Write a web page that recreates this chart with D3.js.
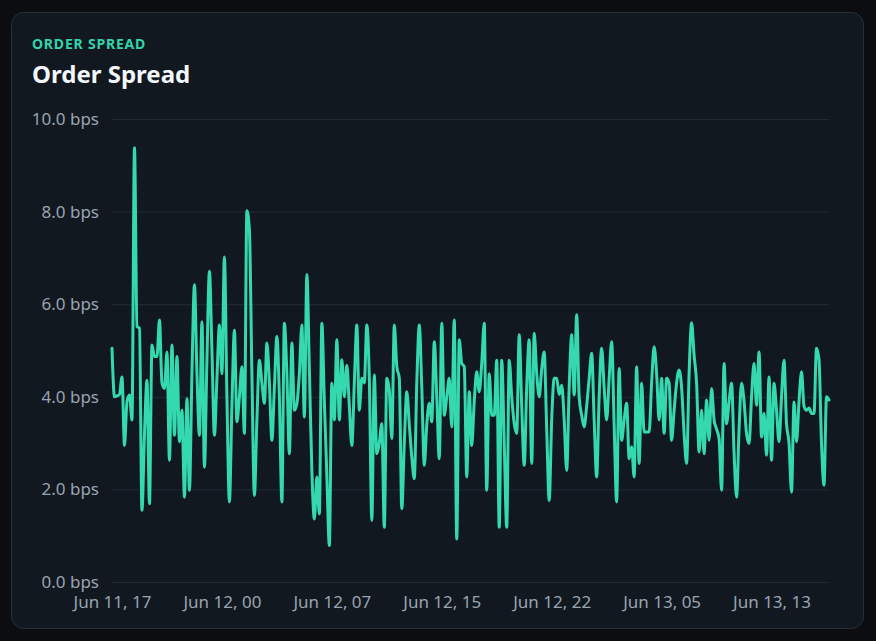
<!DOCTYPE html>
<html>
<head>
<meta charset="utf-8">
<script src="https://cdn.jsdelivr.net/npm/d3@7"></script>
<style>
  html, body { margin: 0; padding: 0; background: #0b0d10; }
  body { width: 876px; height: 641px; overflow: hidden; font-family: "Noto Sans", "Open Sans", sans-serif; }
</style>
</head>
<body>
<svg id="chart" width="876" height="641"></svg>
<script>
// ---- data ----
const chartKicker = "ORDER SPREAD";
const chartTitle = "Order Spread";
const startTime = "2024-06-11T17:00:00";
const stepMinutes = 10;
const spreadBps = [
  5.05, 4.0, 4.02, 4.05, 4.43, 2.95, 3.9, 4.04, 3.5, 9.38,
  5.52, 5.48, 1.55, 3.2, 4.36, 1.69, 5.12, 4.87, 4.87, 5.66,
  4.3, 4.18, 4.97, 2.63, 5.12, 3.17, 4.87, 3.03, 3.71, 1.83,
  3.96, 1.98, 4.5, 6.42, 4.5, 3.17, 5.62, 2.48, 4.8, 6.71,
  5.0, 3.17, 4.4, 5.55, 4.5, 7.02, 4.0, 1.73, 3.8, 5.44,
  3.46, 4.0, 4.65, 3.21, 8.02, 7.6, 4.5, 1.87, 3.5, 4.79,
  4.3, 3.86, 5.16, 4.3, 3.06, 4.2, 5.3, 4.0, 1.73, 5.59,
  4.5, 2.77, 5.16, 3.71, 3.85, 4.5, 5.55, 3.56, 6.64, 4.6,
  2.4, 1.36, 2.27, 1.47, 5.59, 3.9, 2.3, 0.79, 4.29, 3.5,
  5.23, 3.5, 4.8, 4.0, 4.68, 3.8, 2.95, 4.3, 5.55, 3.71,
  4.4, 4.3, 5.55, 4.4, 1.33, 4.47, 2.77, 3.0, 3.42, 1.18,
  4.4, 4.14, 3.1, 5.55, 4.65, 4.4, 1.58, 3.0, 4.11, 3.4,
  2.7, 2.23, 4.3, 5.55, 4.2, 2.52, 3.4, 3.86, 3.46, 5.19,
  4.0, 2.66, 5.59, 3.6, 4.0, 4.4, 3.35, 5.66, 0.93, 5.23,
  4.72, 4.65, 2.27, 4.11, 2.95, 3.9, 4.54, 4.11, 4.72, 5.59,
  1.98, 4.5, 3.6, 3.6, 4.79, 1.18, 4.79, 3.0, 1.18, 4.79,
  4.0, 3.42, 3.21, 5.34, 3.8, 2.52, 4.2, 5.23, 2.56, 5.37,
  4.5, 4.0, 4.6, 4.97, 3.3, 1.76, 3.5, 4.4, 4.4, 4.05,
  4.25, 3.5, 2.41, 4.2, 5.34, 4.04, 5.77, 4.0, 3.6, 3.35,
  3.8, 4.4, 4.94, 3.5, 2.27, 4.0, 5.05, 4.2, 3.5, 4.4,
  5.19, 3.4, 1.73, 4.61, 3.06, 3.5, 3.86, 2.66, 2.92, 2.27,
  4.65, 2.56, 4.29, 3.24, 3.24, 3.24, 4.3, 5.08, 4.5, 3.5,
  4.4, 3.21, 4.4, 4.3, 3.06, 3.7, 4.3, 4.58, 4.2, 3.2,
  2.56, 4.5, 5.6, 4.9, 4.3, 2.81, 3.71, 2.77, 3.93, 3.06,
  4.18, 3.5, 3.3, 3.1, 1.98, 4.72, 3.42, 3.9, 4.29, 2.8,
  1.83, 3.3, 4.29, 3.9, 3.2, 2.99, 4.0, 4.72, 3.82, 4.97,
  3.13, 3.64, 2.74, 4.43, 2.63, 4.29, 3.7, 3.03, 4.0, 4.79,
  3.42, 3.0, 1.94, 3.89, 3.03, 3.9, 4.54, 3.8, 3.71, 3.76,
  3.64, 3.64, 5.05, 4.8, 3.0, 2.09, 4.0, 3.93
];
const xTickLabels = ["Jun 11, 17", "Jun 12, 00", "Jun 12, 07", "Jun 12, 15", "Jun 12, 22", "Jun 13, 05", "Jun 13, 13"];
const xTickEvery = 44;
const yTicks = [0, 2, 4, 6, 8, 10];

// ---- build ----
const parse = d3.timeParse("%Y-%m-%dT%H:%M:%S");
const t0 = parse(startTime);
const data = spreadBps.map((v, i) => ({ t: d3.timeMinute.offset(t0, i * stepMinutes), v }));

const svg = d3.select("#chart");
const W = 876, H = 641;
const margin = { left: 112, right: 47, top: 119, bottom: 59 };

// card
svg.append("rect")
  .attr("x", 11.5).attr("y", 12.5)
  .attr("width", 852).attr("height", 616)
  .attr("rx", 12).attr("ry", 12)
  .attr("fill", "#111820")
  .attr("stroke", "#29303a")
  .attr("stroke-width", 1);

svg.append("text")
  .attr("x", 32).attr("y", 49)
  .attr("fill", "#34d3aa")
  .attr("font-size", 14).attr("font-weight", 700)
  .attr("letter-spacing", 0.8)
  .text(chartKicker);

svg.append("text")
  .attr("x", 32).attr("y", 83)
  .attr("fill", "#f3f6fa")
  .attr("font-size", 24).attr("font-weight", 700)
  .text(chartTitle);

const x = d3.scaleTime()
  .domain(d3.extent(data, d => d.t))
  .range([margin.left, W - margin.right]);

const y = d3.scaleLinear()
  .domain([0, 10])
  .range([H - margin.bottom, margin.top]);

// grid + y axis
const yAxis = d3.axisLeft(y)
  .tickValues(yTicks)
  .tickSize(-(W - margin.left - margin.right))
  .tickPadding(13)
  .tickFormat(d => d.toFixed(1) + " bps");

const gy = svg.append("g")
  .attr("transform", `translate(${margin.left},0)`)
  .call(yAxis);
gy.select(".domain").remove();
gy.selectAll(".tick line").attr("stroke", "#222a33").attr("stroke-width", 1);
gy.selectAll(".tick text")
  .attr("fill", "#9aa4b0")
  .attr("font-size", 17)
  .attr("font-family", "'Noto Sans', sans-serif");

// x axis
const tickDates = xTickLabels.map((_, k) => data[k * xTickEvery].t);
const xAxis = d3.axisBottom(x)
  .tickValues(tickDates)
  .tickSize(0)
  .tickPadding(14)
  .tickFormat((d, k) => xTickLabels[k]);

const gx = svg.append("g")
  .attr("transform", `translate(0,${H - margin.bottom})`)
  .call(xAxis);
gx.select(".domain").remove();
gx.selectAll(".tick text")
  .attr("fill", "#9aa4b0")
  .attr("font-size", 17)
  .attr("font-family", "'Noto Sans', sans-serif");

// line
const line = d3.line()
  .x(d => x(d.t))
  .y(d => y(d.v))
  .curve(d3.curveMonotoneX);

svg.append("path")
  .datum(data)
  .attr("fill", "none")
  .attr("stroke", "#34d9b0")
  .attr("stroke-width", 3)
  .attr("stroke-linejoin", "round")
  .attr("stroke-linecap", "round")
  .attr("d", line);
</script>
</body>
</html>
